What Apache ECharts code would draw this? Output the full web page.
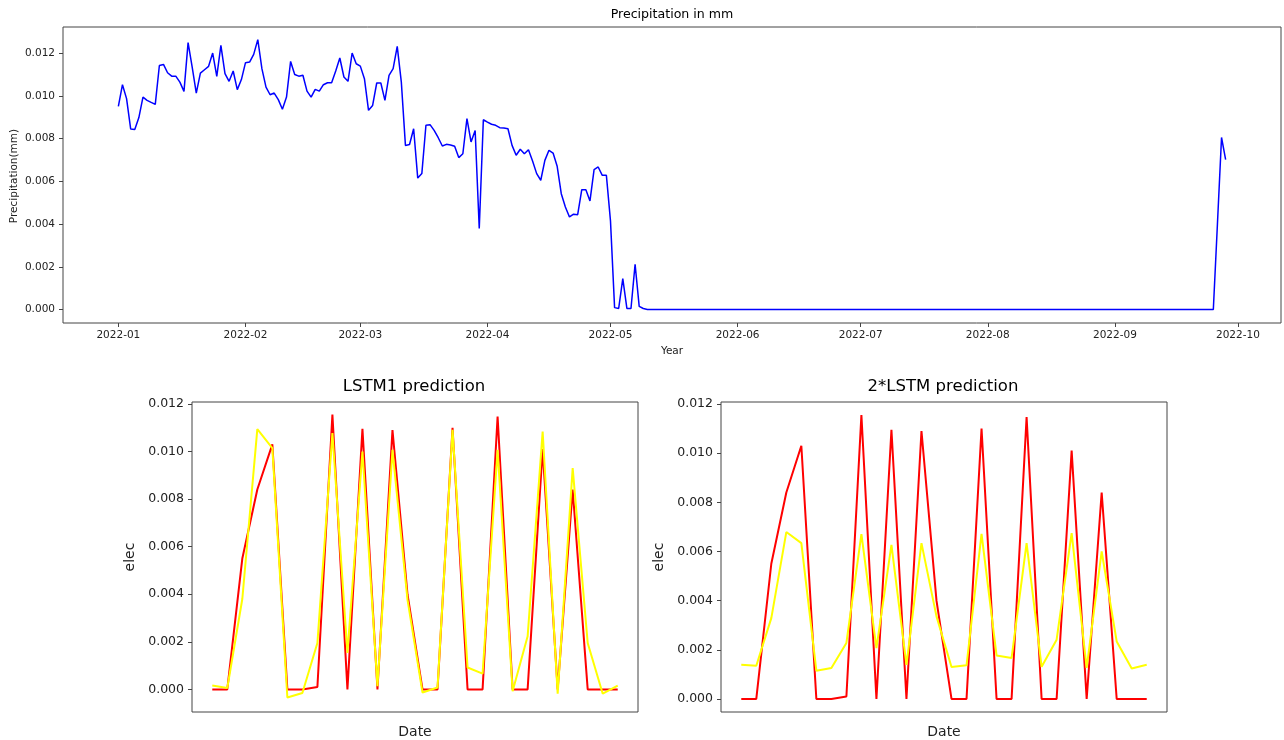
<!DOCTYPE html>
<html><head><meta charset="utf-8">
<script src="https://cdn.jsdelivr.net/npm/echarts@6/dist/echarts.min.js"></script>
<style>html,body{margin:0;padding:0;background:#fff}#c{width:1284px;height:740px}</style>
</head><body><div id="c"></div>
<script>
// ---- DATA ----
const precipStart = [2022, 0, 1]; // first day of daily series (year, monthIndex, day)
const precipValues = [
  0.00951, 0.01052, 0.00987, 0.00845, 0.00842, 0.00898, 0.00994, 0.00979, 0.00969, 0.00960,
  0.01142, 0.01147, 0.01108, 0.01092, 0.01092, 0.01064, 0.01021, 0.01249, 0.01134, 0.01013,
  0.01106, 0.01122, 0.01138, 0.01200, 0.01091, 0.01236, 0.01104, 0.01068, 0.01116, 0.01029,
  0.01076, 0.01155, 0.01158, 0.01194, 0.01263, 0.01127, 0.01041, 0.01005, 0.01013, 0.00982,
  0.00937, 0.00994, 0.01161, 0.01100, 0.01092, 0.01096, 0.01022, 0.00994, 0.01030, 0.01022,
  0.01052, 0.01061, 0.01061, 0.01116, 0.01177, 0.01088, 0.01068, 0.01200, 0.01150, 0.01139,
  0.01080, 0.00932, 0.00955, 0.01060, 0.01060, 0.00979, 0.01096, 0.01127, 0.01231, 0.01064,
  0.00768, 0.00772, 0.00846, 0.00615, 0.00636, 0.00862, 0.00865, 0.00838, 0.00804, 0.00765,
  0.00773, 0.00770, 0.00764, 0.00711, 0.00729, 0.00893, 0.00784, 0.00838, 0.00379, 0.00888,
  0.00877, 0.00867, 0.00862, 0.00851, 0.00849, 0.00846, 0.00768, 0.00722, 0.00750, 0.00729,
  0.00748, 0.00695, 0.00636, 0.00605, 0.00698, 0.00745, 0.00732, 0.00670, 0.00542, 0.00480,
  0.00433, 0.00446, 0.00444, 0.00561, 0.00561, 0.00508, 0.00655, 0.00667, 0.00628, 0.00628,
  0.00415, 0.00009, 0.00005, 0.00145, 0.00005, 0.00005, 0.00212, 0.00015, 0.00005,
  0, 0, 0, 0, 0, 0, 0, 0, 0, 0,
  0, 0, 0, 0, 0, 0, 0, 0, 0, 0,
  0, 0, 0, 0, 0, 0, 0, 0, 0, 0,
  0, 0, 0, 0, 0, 0, 0, 0, 0, 0,
  0, 0, 0, 0, 0, 0, 0, 0, 0, 0,
  0, 0, 0, 0, 0, 0, 0, 0, 0, 0,
  0, 0, 0, 0, 0, 0, 0, 0, 0, 0,
  0, 0, 0, 0, 0, 0, 0, 0, 0, 0,
  0, 0, 0, 0, 0, 0, 0, 0, 0, 0,
  0, 0, 0, 0, 0, 0, 0, 0, 0, 0,
  0, 0, 0, 0, 0, 0, 0, 0, 0, 0,
  0, 0, 0, 0, 0, 0, 0, 0, 0, 0,
  0, 0, 0, 0, 0, 0, 0, 0, 0, 0,
  0, 0, 0, 0, 0, 0, 0, 0, 0,
  0.00400, 0.00805, 0.00701
];
const monthTickLabels = ['2022-01','2022-02','2022-03','2022-04','2022-05','2022-06','2022-07','2022-08','2022-09','2022-10'];
const precipYTicks = [0, 0.002, 0.004, 0.006, 0.008, 0.010, 0.012];

const lstmActual = [0, 0, 0.0055, 0.0084, 0.0103, 0, 0, 0.0001, 0.01155, 0, 0.01095, 0, 0.0109, 0.0040,
  0, 0, 0.0110, 0, 0, 0.01147, 0, 0, 0.0101, 0, 0.0084, 0, 0, 0];
const lstm1Pred = [0.00016, 0.00006, 0.0038, 0.01094, 0.01014, -0.00034, -0.00015, 0.00195, 0.01077, 0.00153,
  0.0100, 0.00013, 0.01007, 0.00377, -0.00013, 0.00008, 0.01091, 0.00092, 0.00066, 0.01007,
  -0.00008, 0.00223, 0.01084, -0.00018, 0.0093, 0.00195, -0.00018, 0.00016];
const lstm2Pred = [0.00139, 0.00135, 0.00329, 0.00679, 0.00634, 0.00115, 0.00126, 0.00228, 0.00671, 0.00207,
  0.00627, 0.00139, 0.00634, 0.00336, 0.0013, 0.00137, 0.00672, 0.00177, 0.00167, 0.00634,
  0.00131, 0.00241, 0.00675, 0.00126, 0.0060, 0.00234, 0.00124, 0.00139];
const elecYTicks = [0, 0.002, 0.004, 0.006, 0.008, 0.010, 0.012];

// ---- BUILD ----
const FONT = 'DejaVu Sans';
const DAY = 86400000;
const t0 = new Date(precipStart[0], precipStart[1], precipStart[2]).getTime();
const precipData = precipValues.map((v, i) => [new Date(precipStart[0], precipStart[1], precipStart[2] + i).getTime(), v]);
const monthTicks = monthTickLabels.map(s => { const [y, m] = s.split('-').map(Number); return new Date(y, m - 1, 1).getTime(); });
const span = (precipValues.length - 1);
const fmtMonth = v => { const d = new Date(v); return d.getFullYear() + '-' + String(d.getMonth() + 1).padStart(2, '0'); };
const idx = a => a.map((v, i) => [i, v]);
const spine = '#444';
const TICK = 4; // outward tick length: axis is offset by TICK and ticks point inward to the frame
const hiddenLine = () => ({ show: false, onZero: false });
const tick = vals => ({ show: true, inside: true, customValues: vals, length: TICK, lineStyle: { color: spine, width: 1 } });

function bottomY(grid, min) {
  return {
    type: 'value', gridIndex: grid, min: min, max: 0.01208, offset: TICK,
    axisLine: hiddenLine(), splitLine: { show: false },
    axisTick: tick(elecYTicks),
    axisLabel: { customValues: elecYTicks, formatter: v => v.toFixed(3), fontSize: 12.5, fontFamily: FONT, color: '#222', margin: 4 },
    name: 'elec', nameLocation: 'middle', nameGap: 51, nameRotate: 90,
    nameTextStyle: { fontSize: 14, fontFamily: FONT, color: '#222' }
  };
}
function bottomX(grid) {
  return {
    type: 'value', gridIndex: grid, min: -1.35, max: 28.35,
    axisLine: hiddenLine(), splitLine: { show: false }, axisTick: { show: false }, axisLabel: { show: false },
    name: 'Date', nameLocation: 'middle', nameGap: 13,
    nameTextStyle: { fontSize: 14, fontFamily: FONT, color: '#222' }
  };
}

const option = {
  animation: false,
  backgroundColor: '#fff',
  textStyle: { fontFamily: FONT },
  grid: [
    { left: 63, right: 3, top: 27, bottom: 417, show: true, borderColor: spine, borderWidth: 1, outerBoundsMode: 'none', containLabel: false },
    { left: 192, right: 646, top: 402, bottom: 28, show: true, borderColor: spine, borderWidth: 1, outerBoundsMode: 'none', containLabel: false },
    { left: 721, right: 117, top: 402, bottom: 28, show: true, borderColor: spine, borderWidth: 1, outerBoundsMode: 'none', containLabel: false }
  ],
  xAxis: [
    {
      type: 'value', gridIndex: 0, min: t0 - 0.05 * span * DAY, max: t0 + 1.05 * span * DAY, offset: TICK,
      axisLine: hiddenLine(), splitLine: { show: false },
      axisTick: tick(monthTicks),
      axisLabel: { customValues: monthTicks, formatter: fmtMonth, fontSize: 10.5, fontFamily: FONT, color: '#222', margin: 3, hideOverlap: false },
      name: 'Year', nameLocation: 'middle', nameGap: 19,
      nameTextStyle: { fontSize: 10.5, fontFamily: FONT, color: '#222' }
    },
    bottomX(1), bottomX(2)
  ],
  yAxis: [
    {
      type: 'value', gridIndex: 0, min: -0.00063, max: 0.01322, offset: TICK,
      axisLine: hiddenLine(), splitLine: { show: false },
      axisTick: tick(precipYTicks),
      axisLabel: { customValues: precipYTicks, formatter: v => v.toFixed(3), fontSize: 10.5, fontFamily: FONT, color: '#222', margin: 4 }
    },
    bottomY(1, -0.00095), bottomY(2, -0.00053)
  ],
  graphic: [
    { type: 'text', x: 672, y: 15, style: { text: 'Precipitation in mm', textAlign: 'center', textVerticalAlign: 'middle', fontSize: 12.6, fontFamily: FONT, fill: '#000' } },
    { type: 'text', x: 14, y: 176, rotation: Math.PI / 2, style: { text: 'Precipitation(mm)', textAlign: 'center', textVerticalAlign: 'middle', fontSize: 10.5, fontFamily: FONT, fill: '#222' } },
    { type: 'text', x: 414, y: 387, style: { text: 'LSTM1 prediction', textAlign: 'center', textVerticalAlign: 'middle', fontSize: 16.5, fontFamily: FONT, fill: '#000' } },
    { type: 'text', x: 943, y: 387, style: { text: '2*LSTM prediction', textAlign: 'center', textVerticalAlign: 'middle', fontSize: 16.5, fontFamily: FONT, fill: '#000' } }
  ],
  series: [
    { type: 'line', xAxisIndex: 0, yAxisIndex: 0, data: precipData, showSymbol: false, lineStyle: { color: '#0000ff', width: 1.5 } },
    { type: 'line', xAxisIndex: 1, yAxisIndex: 1, data: idx(lstmActual), showSymbol: false, lineStyle: { color: '#ff0000', width: 2 } },
    { type: 'line', xAxisIndex: 1, yAxisIndex: 1, data: idx(lstm1Pred), showSymbol: false, lineStyle: { color: '#ffff00', width: 2 } },
    { type: 'line', xAxisIndex: 2, yAxisIndex: 2, data: idx(lstmActual), showSymbol: false, lineStyle: { color: '#ff0000', width: 2 } },
    { type: 'line', xAxisIndex: 2, yAxisIndex: 2, data: idx(lstm2Pred), showSymbol: false, lineStyle: { color: '#ffff00', width: 2 } }
  ]
};
const chart = echarts.init(document.getElementById('c'), null, { renderer: 'canvas' });
chart.setOption(option);
</script></body></html>
